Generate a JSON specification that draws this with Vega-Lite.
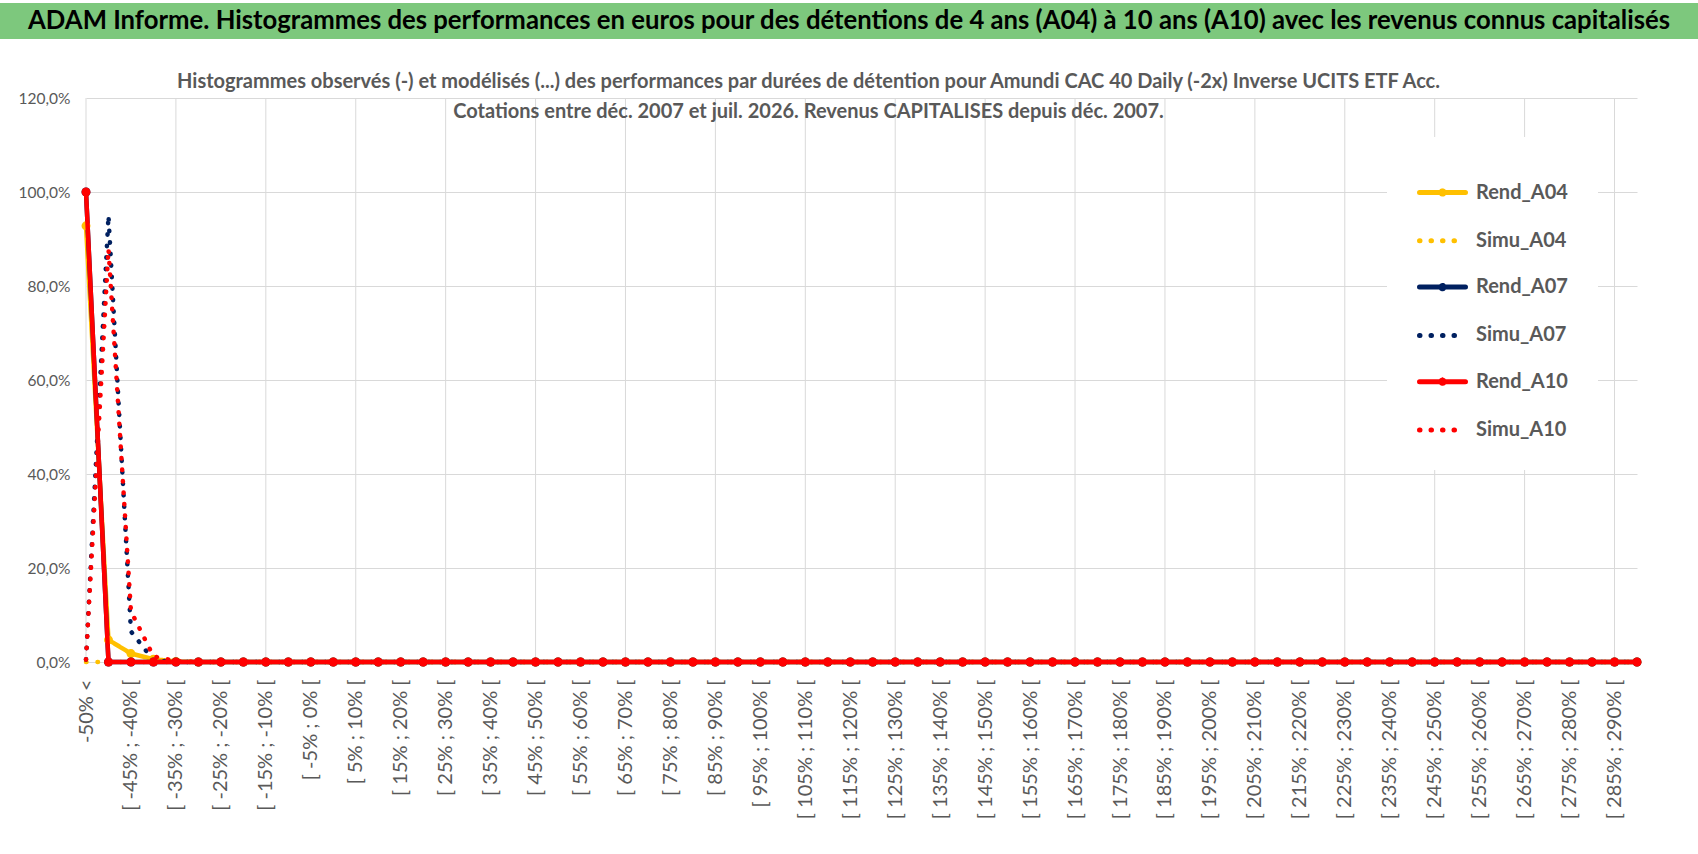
{
  "$schema": "https://vega.github.io/schema/vega-lite/v6.json",
  "background": "white",
  "padding": {"left": 0, "top": 3, "right": 0, "bottom": 0},
  "spacing": 33,
  "vconcat": [
    {
      "width": 1698,
      "height": 36,
      "view": {"fill": "#7DC87D", "stroke": null},
      "data": {"values": [{"t": "ADAM Informe. Histogrammes des performances en euros pour des détentions de 4 ans (A04) à 10 ans (A10) avec les revenus connus capitalisés"}]},
      "mark": {"type": "text", "font": "Lato", "fontWeight": "bold", "fontSize": 25.7, "color": "black", "baseline": "middle", "align": "center"},
      "encoding": {"text": {"field": "t"}}
    },
    {
      "width": 1637,
      "height": 564,
      "view": {"stroke": null},
      "title": {
        "text": [
          "Histogrammes observés (-) et modélisés (...) des performances par durées de détention pour Amundi CAC 40 Daily (-2x) Inverse UCITS ETF Acc.",
          "Cotations entre déc. 2007 et juil. 2026. Revenus CAPITALISES depuis déc. 2007."
        ],
        "font": "Lato", "fontSize": 20, "fontWeight": "bold", "color": "#595959",
        "lineHeight": 30, "anchor": "middle", "dx": -10, "baseline": "alphabetic", "offset": -47
      },
      "data": {"values": [
        {"cat": "-50% <", "Rend_A04": 0.928, "Simu_A04": 0, "Rend_A07": 1, "Simu_A07": 0.005, "Rend_A10": 1, "Simu_A10": 0.005},
        {"cat": "[ -50% ; -45% [", "Rend_A04": 0.047, "Simu_A04": 0, "Rend_A07": 0, "Simu_A07": 0.95, "Rend_A10": 0, "Simu_A10": 0.879},
        {"cat": "[ -45% ; -40% [", "Rend_A04": 0.018, "Simu_A04": 0, "Rend_A07": 0, "Simu_A07": 0.065, "Rend_A10": 0, "Simu_A10": 0.108},
        {"cat": "[ -40% ; -35% [", "Rend_A04": 0.006, "Simu_A04": 0, "Rend_A07": 0, "Simu_A07": 0.004, "Rend_A10": 0, "Simu_A10": 0.012},
        {"cat": "[ -35% ; -30% [", "Rend_A04": 0.001, "Simu_A04": 0, "Rend_A07": 0, "Simu_A07": 0, "Rend_A10": 0, "Simu_A10": 0.002},
        {"cat": "[ -30% ; -25% [", "Rend_A04": 0, "Simu_A04": 0, "Rend_A07": 0, "Simu_A07": 0, "Rend_A10": 0, "Simu_A10": 0},
        {"cat": "[ -25% ; -20% [", "Rend_A04": 0, "Simu_A04": 0, "Rend_A07": 0, "Simu_A07": 0, "Rend_A10": 0, "Simu_A10": 0},
        {"cat": "[ -20% ; -15% [", "Rend_A04": 0, "Simu_A04": 0, "Rend_A07": 0, "Simu_A07": 0, "Rend_A10": 0, "Simu_A10": 0},
        {"cat": "[ -15% ; -10% [", "Rend_A04": 0, "Simu_A04": 0, "Rend_A07": 0, "Simu_A07": 0, "Rend_A10": 0, "Simu_A10": 0},
        {"cat": "[ -10% ; -5% [", "Rend_A04": 0, "Simu_A04": 0, "Rend_A07": 0, "Simu_A07": 0, "Rend_A10": 0, "Simu_A10": 0},
        {"cat": "[ -5% ; 0% [", "Rend_A04": 0, "Simu_A04": 0, "Rend_A07": 0, "Simu_A07": 0, "Rend_A10": 0, "Simu_A10": 0},
        {"cat": "[ 0% ; 5% [", "Rend_A04": 0, "Simu_A04": 0, "Rend_A07": 0, "Simu_A07": 0, "Rend_A10": 0, "Simu_A10": 0},
        {"cat": "[ 5% ; 10% [", "Rend_A04": 0, "Simu_A04": 0, "Rend_A07": 0, "Simu_A07": 0, "Rend_A10": 0, "Simu_A10": 0},
        {"cat": "[ 10% ; 15% [", "Rend_A04": 0, "Simu_A04": 0, "Rend_A07": 0, "Simu_A07": 0, "Rend_A10": 0, "Simu_A10": 0},
        {"cat": "[ 15% ; 20% [", "Rend_A04": 0, "Simu_A04": 0, "Rend_A07": 0, "Simu_A07": 0, "Rend_A10": 0, "Simu_A10": 0},
        {"cat": "[ 20% ; 25% [", "Rend_A04": 0, "Simu_A04": 0, "Rend_A07": 0, "Simu_A07": 0, "Rend_A10": 0, "Simu_A10": 0},
        {"cat": "[ 25% ; 30% [", "Rend_A04": 0, "Simu_A04": 0, "Rend_A07": 0, "Simu_A07": 0, "Rend_A10": 0, "Simu_A10": 0},
        {"cat": "[ 30% ; 35% [", "Rend_A04": 0, "Simu_A04": 0, "Rend_A07": 0, "Simu_A07": 0, "Rend_A10": 0, "Simu_A10": 0},
        {"cat": "[ 35% ; 40% [", "Rend_A04": 0, "Simu_A04": 0, "Rend_A07": 0, "Simu_A07": 0, "Rend_A10": 0, "Simu_A10": 0},
        {"cat": "[ 40% ; 45% [", "Rend_A04": 0, "Simu_A04": 0, "Rend_A07": 0, "Simu_A07": 0, "Rend_A10": 0, "Simu_A10": 0},
        {"cat": "[ 45% ; 50% [", "Rend_A04": 0, "Simu_A04": 0, "Rend_A07": 0, "Simu_A07": 0, "Rend_A10": 0, "Simu_A10": 0},
        {"cat": "[ 50% ; 55% [", "Rend_A04": 0, "Simu_A04": 0, "Rend_A07": 0, "Simu_A07": 0, "Rend_A10": 0, "Simu_A10": 0},
        {"cat": "[ 55% ; 60% [", "Rend_A04": 0, "Simu_A04": 0, "Rend_A07": 0, "Simu_A07": 0, "Rend_A10": 0, "Simu_A10": 0},
        {"cat": "[ 60% ; 65% [", "Rend_A04": 0, "Simu_A04": 0, "Rend_A07": 0, "Simu_A07": 0, "Rend_A10": 0, "Simu_A10": 0},
        {"cat": "[ 65% ; 70% [", "Rend_A04": 0, "Simu_A04": 0, "Rend_A07": 0, "Simu_A07": 0, "Rend_A10": 0, "Simu_A10": 0},
        {"cat": "[ 70% ; 75% [", "Rend_A04": 0, "Simu_A04": 0, "Rend_A07": 0, "Simu_A07": 0, "Rend_A10": 0, "Simu_A10": 0},
        {"cat": "[ 75% ; 80% [", "Rend_A04": 0, "Simu_A04": 0, "Rend_A07": 0, "Simu_A07": 0, "Rend_A10": 0, "Simu_A10": 0},
        {"cat": "[ 80% ; 85% [", "Rend_A04": 0, "Simu_A04": 0, "Rend_A07": 0, "Simu_A07": 0, "Rend_A10": 0, "Simu_A10": 0},
        {"cat": "[ 85% ; 90% [", "Rend_A04": 0, "Simu_A04": 0, "Rend_A07": 0, "Simu_A07": 0, "Rend_A10": 0, "Simu_A10": 0},
        {"cat": "[ 90% ; 95% [", "Rend_A04": 0, "Simu_A04": 0, "Rend_A07": 0, "Simu_A07": 0, "Rend_A10": 0, "Simu_A10": 0},
        {"cat": "[ 95% ; 100% [", "Rend_A04": 0, "Simu_A04": 0, "Rend_A07": 0, "Simu_A07": 0, "Rend_A10": 0, "Simu_A10": 0},
        {"cat": "[ 100% ; 105% [", "Rend_A04": 0, "Simu_A04": 0, "Rend_A07": 0, "Simu_A07": 0, "Rend_A10": 0, "Simu_A10": 0},
        {"cat": "[ 105% ; 110% [", "Rend_A04": 0, "Simu_A04": 0, "Rend_A07": 0, "Simu_A07": 0, "Rend_A10": 0, "Simu_A10": 0},
        {"cat": "[ 110% ; 115% [", "Rend_A04": 0, "Simu_A04": 0, "Rend_A07": 0, "Simu_A07": 0, "Rend_A10": 0, "Simu_A10": 0},
        {"cat": "[ 115% ; 120% [", "Rend_A04": 0, "Simu_A04": 0, "Rend_A07": 0, "Simu_A07": 0, "Rend_A10": 0, "Simu_A10": 0},
        {"cat": "[ 120% ; 125% [", "Rend_A04": 0, "Simu_A04": 0, "Rend_A07": 0, "Simu_A07": 0, "Rend_A10": 0, "Simu_A10": 0},
        {"cat": "[ 125% ; 130% [", "Rend_A04": 0, "Simu_A04": 0, "Rend_A07": 0, "Simu_A07": 0, "Rend_A10": 0, "Simu_A10": 0},
        {"cat": "[ 130% ; 135% [", "Rend_A04": 0, "Simu_A04": 0, "Rend_A07": 0, "Simu_A07": 0, "Rend_A10": 0, "Simu_A10": 0},
        {"cat": "[ 135% ; 140% [", "Rend_A04": 0, "Simu_A04": 0, "Rend_A07": 0, "Simu_A07": 0, "Rend_A10": 0, "Simu_A10": 0},
        {"cat": "[ 140% ; 145% [", "Rend_A04": 0, "Simu_A04": 0, "Rend_A07": 0, "Simu_A07": 0, "Rend_A10": 0, "Simu_A10": 0},
        {"cat": "[ 145% ; 150% [", "Rend_A04": 0, "Simu_A04": 0, "Rend_A07": 0, "Simu_A07": 0, "Rend_A10": 0, "Simu_A10": 0},
        {"cat": "[ 150% ; 155% [", "Rend_A04": 0, "Simu_A04": 0, "Rend_A07": 0, "Simu_A07": 0, "Rend_A10": 0, "Simu_A10": 0},
        {"cat": "[ 155% ; 160% [", "Rend_A04": 0, "Simu_A04": 0, "Rend_A07": 0, "Simu_A07": 0, "Rend_A10": 0, "Simu_A10": 0},
        {"cat": "[ 160% ; 165% [", "Rend_A04": 0, "Simu_A04": 0, "Rend_A07": 0, "Simu_A07": 0, "Rend_A10": 0, "Simu_A10": 0},
        {"cat": "[ 165% ; 170% [", "Rend_A04": 0, "Simu_A04": 0, "Rend_A07": 0, "Simu_A07": 0, "Rend_A10": 0, "Simu_A10": 0},
        {"cat": "[ 170% ; 175% [", "Rend_A04": 0, "Simu_A04": 0, "Rend_A07": 0, "Simu_A07": 0, "Rend_A10": 0, "Simu_A10": 0},
        {"cat": "[ 175% ; 180% [", "Rend_A04": 0, "Simu_A04": 0, "Rend_A07": 0, "Simu_A07": 0, "Rend_A10": 0, "Simu_A10": 0},
        {"cat": "[ 180% ; 185% [", "Rend_A04": 0, "Simu_A04": 0, "Rend_A07": 0, "Simu_A07": 0, "Rend_A10": 0, "Simu_A10": 0},
        {"cat": "[ 185% ; 190% [", "Rend_A04": 0, "Simu_A04": 0, "Rend_A07": 0, "Simu_A07": 0, "Rend_A10": 0, "Simu_A10": 0},
        {"cat": "[ 190% ; 195% [", "Rend_A04": 0, "Simu_A04": 0, "Rend_A07": 0, "Simu_A07": 0, "Rend_A10": 0, "Simu_A10": 0},
        {"cat": "[ 195% ; 200% [", "Rend_A04": 0, "Simu_A04": 0, "Rend_A07": 0, "Simu_A07": 0, "Rend_A10": 0, "Simu_A10": 0},
        {"cat": "[ 200% ; 205% [", "Rend_A04": 0, "Simu_A04": 0, "Rend_A07": 0, "Simu_A07": 0, "Rend_A10": 0, "Simu_A10": 0},
        {"cat": "[ 205% ; 210% [", "Rend_A04": 0, "Simu_A04": 0, "Rend_A07": 0, "Simu_A07": 0, "Rend_A10": 0, "Simu_A10": 0},
        {"cat": "[ 210% ; 215% [", "Rend_A04": 0, "Simu_A04": 0, "Rend_A07": 0, "Simu_A07": 0, "Rend_A10": 0, "Simu_A10": 0},
        {"cat": "[ 215% ; 220% [", "Rend_A04": 0, "Simu_A04": 0, "Rend_A07": 0, "Simu_A07": 0, "Rend_A10": 0, "Simu_A10": 0},
        {"cat": "[ 220% ; 225% [", "Rend_A04": 0, "Simu_A04": 0, "Rend_A07": 0, "Simu_A07": 0, "Rend_A10": 0, "Simu_A10": 0},
        {"cat": "[ 225% ; 230% [", "Rend_A04": 0, "Simu_A04": 0, "Rend_A07": 0, "Simu_A07": 0, "Rend_A10": 0, "Simu_A10": 0},
        {"cat": "[ 230% ; 235% [", "Rend_A04": 0, "Simu_A04": 0, "Rend_A07": 0, "Simu_A07": 0, "Rend_A10": 0, "Simu_A10": 0},
        {"cat": "[ 235% ; 240% [", "Rend_A04": 0, "Simu_A04": 0, "Rend_A07": 0, "Simu_A07": 0, "Rend_A10": 0, "Simu_A10": 0},
        {"cat": "[ 240% ; 245% [", "Rend_A04": 0, "Simu_A04": 0, "Rend_A07": 0, "Simu_A07": 0, "Rend_A10": 0, "Simu_A10": 0},
        {"cat": "[ 245% ; 250% [", "Rend_A04": 0, "Simu_A04": 0, "Rend_A07": 0, "Simu_A07": 0, "Rend_A10": 0, "Simu_A10": 0},
        {"cat": "[ 250% ; 255% [", "Rend_A04": 0, "Simu_A04": 0, "Rend_A07": 0, "Simu_A07": 0, "Rend_A10": 0, "Simu_A10": 0},
        {"cat": "[ 255% ; 260% [", "Rend_A04": 0, "Simu_A04": 0, "Rend_A07": 0, "Simu_A07": 0, "Rend_A10": 0, "Simu_A10": 0},
        {"cat": "[ 260% ; 265% [", "Rend_A04": 0, "Simu_A04": 0, "Rend_A07": 0, "Simu_A07": 0, "Rend_A10": 0, "Simu_A10": 0},
        {"cat": "[ 265% ; 270% [", "Rend_A04": 0, "Simu_A04": 0, "Rend_A07": 0, "Simu_A07": 0, "Rend_A10": 0, "Simu_A10": 0},
        {"cat": "[ 270% ; 275% [", "Rend_A04": 0, "Simu_A04": 0, "Rend_A07": 0, "Simu_A07": 0, "Rend_A10": 0, "Simu_A10": 0},
        {"cat": "[ 275% ; 280% [", "Rend_A04": 0, "Simu_A04": 0, "Rend_A07": 0, "Simu_A07": 0, "Rend_A10": 0, "Simu_A10": 0},
        {"cat": "[ 280% ; 285% [", "Rend_A04": 0, "Simu_A04": 0, "Rend_A07": 0, "Simu_A07": 0, "Rend_A10": 0, "Simu_A10": 0},
        {"cat": "[ 285% ; 290% [", "Rend_A04": 0, "Simu_A04": 0, "Rend_A07": 0, "Simu_A07": 0, "Rend_A10": 0, "Simu_A10": 0},
        {"cat": "[ 290% ; 295% [", "Rend_A04": 0, "Simu_A04": 0, "Rend_A07": 0, "Simu_A07": 0, "Rend_A10": 0, "Simu_A10": 0}
      ]},
      "transform": [
        {"fold": ["Rend_A04", "Simu_A04", "Rend_A07", "Simu_A07", "Rend_A10", "Simu_A10"], "as": ["serie", "v"]}
      ],
      "encoding": {
        "x": {
          "field": "cat", "type": "nominal", "sort": null,
          "scale": {"type": "point", "padding": 0, "range": [86, 1637]},
          "axis": {
            "title": null, "grid": false,
            "labelAngle": -90, "labelPadding": 17, "labelFontSize": 20, "labelOverlap": false, "labelLimit": 300,
            "values": ["-50% <", "[ -45% ; -40% [", "[ -35% ; -30% [", "[ -25% ; -20% [", "[ -15% ; -10% [", "[ -5% ; 0% [", "[ 5% ; 10% [", "[ 15% ; 20% [", "[ 25% ; 30% [", "[ 35% ; 40% [", "[ 45% ; 50% [", "[ 55% ; 60% [", "[ 65% ; 70% [", "[ 75% ; 80% [", "[ 85% ; 90% [", "[ 95% ; 100% [", "[ 105% ; 110% [", "[ 115% ; 120% [", "[ 125% ; 130% [", "[ 135% ; 140% [", "[ 145% ; 150% [", "[ 155% ; 160% [", "[ 165% ; 170% [", "[ 175% ; 180% [", "[ 185% ; 190% [", "[ 195% ; 200% [", "[ 205% ; 210% [", "[ 215% ; 220% [", "[ 225% ; 230% [", "[ 235% ; 240% [", "[ 245% ; 250% [", "[ 255% ; 260% [", "[ 265% ; 270% [", "[ 275% ; 280% [", "[ 285% ; 290% ["]
          }
        },
        "y": {
          "field": "v", "type": "quantitative",
          "scale": {"domain": [0, 1.2]},
          "axis": {"title": null, "format": ".1%", "values": [0, 0.2, 0.4, 0.6, 0.8, 1, 1.2], "offset": -86, "labelPadding": 16, "labelFontSize": 15.5, "grid": true}
        }
      },
      "layer": [
        {
          "mark": {"type": "rule", "color": "#D9D9D9", "strokeWidth": 1},
          "encoding": {
            "y": {"datum": 0, "type": "quantitative"},
            "y2": {"datum": 1.2},
            "strokeOpacity": {
              "condition": {"test": "datum.serie == 'Rend_A04' && indexof(['-50% <', '[ -35% ; -30% [', '[ -15% ; -10% [', '[ 5% ; 10% [', '[ 25% ; 30% [', '[ 45% ; 50% [', '[ 65% ; 70% [', '[ 85% ; 90% [', '[ 105% ; 110% [', '[ 125% ; 130% [', '[ 145% ; 150% [', '[ 165% ; 170% [', '[ 185% ; 190% [', '[ 205% ; 210% [', '[ 225% ; 230% [', '[ 245% ; 250% [', '[ 265% ; 270% [', '[ 285% ; 290% ['], datum.cat) >= 0", "value": 1},
              "value": 0
            }
          }
        },
        {
          "transform": [{"filter": {"field": "serie", "oneOf": ["Rend_A04", "Simu_A04", "Rend_A07", "Simu_A07"]}}],
          "mark": {"type": "line", "strokeWidth": 4.5, "strokeCap": "round", "strokeJoin": "round"},
          "encoding": {
            "color": {
              "field": "serie", "type": "nominal",
              "scale": {"domain": ["Rend_A04", "Simu_A04", "Rend_A07", "Simu_A07", "Rend_A10", "Simu_A10"], "range": ["#FFC000", "#FFC000", "#002060", "#002060", "#FF0000", "#FF0000"]},
              "legend": {
                "title": null, "orient": "none", "legendX": 1387, "legendY": 134,
                "fillColor": "white", "padding": 30,
                "symbolType": "stroke", "symbolSize": 2116, "symbolStrokeWidth": 5,
                "labelFont": "Lato", "labelFontSize": 20, "labelFontWeight": "bold", "labelColor": "#595959",
                "labelOffset": 8, "rowPadding": 10.3,
                "encode": {"symbols": {"update": {
                  "strokeCap": {"value": "round"},
                  "shape": {"signal": "slice(datum.value, 0, 4) == 'Rend' ? 'M-1,0H1M0.07,0A0.07,0.07,0,1,1,-0.07,0A0.07,0.07,0,1,1,0.07,0Z' : 'stroke'"}
                }}}
              }
            },
            "strokeDash": {
              "field": "serie", "type": "nominal",
              "scale": {"domain": ["Rend_A04", "Simu_A04", "Rend_A07", "Simu_A07", "Rend_A10", "Simu_A10"], "range": [[1, 0], [0.5, 11], [1, 0], [0.5, 11], [1, 0], [0.5, 11]]}
            }
          }
        },
        {
          "transform": [{"filter": {"field": "serie", "oneOf": ["Rend_A04", "Rend_A07"]}}],
          "mark": {"type": "circle", "size": 80, "opacity": 1},
          "encoding": {
            "fill": {
              "field": "serie", "type": "nominal", "legend": null,
              "scale": {"domain": ["Rend_A04", "Rend_A07", "Rend_A10"], "range": ["#FFC000", "#002060", "#FF0000"]}
            }
          }
        },
        {
          "transform": [{"filter": {"field": "serie", "equal": "Rend_A10"}}],
          "mark": {"type": "line", "strokeWidth": 4.5, "strokeCap": "round", "strokeJoin": "round"},
          "encoding": {
            "color": {"field": "serie", "type": "nominal"},
            "strokeDash": {"field": "serie", "type": "nominal"}
          }
        },
        {
          "transform": [{"filter": {"field": "serie", "equal": "Rend_A10"}}],
          "mark": {"type": "circle", "size": 80, "opacity": 1},
          "encoding": {
            "fill": {"field": "serie", "type": "nominal", "legend": null}
          }
        },
        {
          "transform": [{"filter": {"field": "serie", "equal": "Simu_A10"}}],
          "mark": {"type": "line", "strokeWidth": 4.5, "strokeCap": "round", "strokeJoin": "round"},
          "encoding": {
            "color": {"field": "serie", "type": "nominal"},
            "strokeDash": {"field": "serie", "type": "nominal"}
          }
        }
      ]
    }
  ],
  "config": {
    "view": {"stroke": null},
    "font": "Lato",
    "locale": {"number": {"decimal": ",", "thousands": " ", "grouping": [3], "currency": ["", " €"]}},
    "axis": {
      "labelFont": "Lato", "labelColor": "#595959", "gridColor": "#D9D9D9", "gridWidth": 1,
      "domain": false, "ticks": false
    }
  }
}
